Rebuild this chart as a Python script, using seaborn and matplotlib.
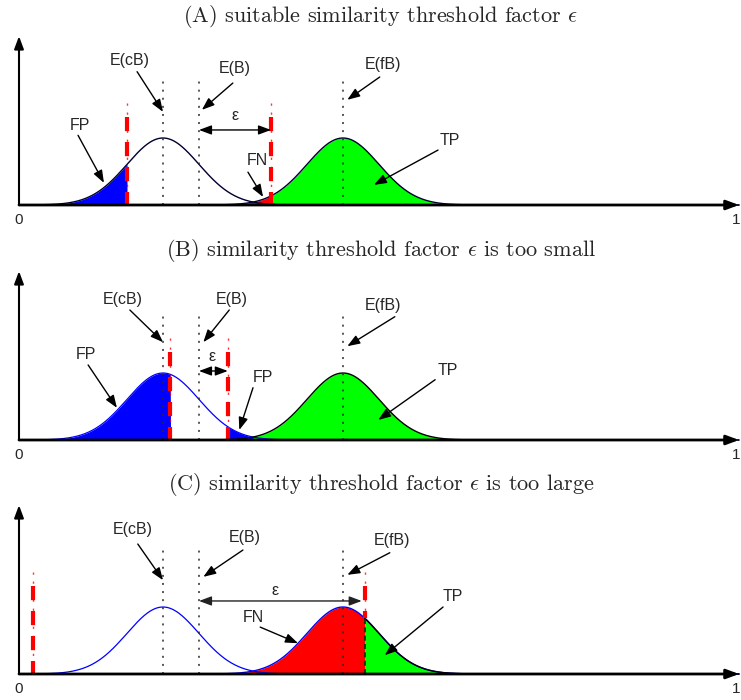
import numpy as np
import matplotlib
matplotlib.use("Agg")
import matplotlib.pyplot as plt
import seaborn as sns

sns.set_style("white")
plt.rcParams["mathtext.fontset"] = "cm"
plt.rcParams["font.family"] = ["Liberation Sans", "DejaVu Sans"]

# Expected values of the three similarity distributions and their common spread
mean_cB = 0.20
mean_B = 0.25
mean_fB = 0.45
sigma = 0.05

# Threshold factor used in each scenario
panel_tags = ["A", "B", "C"]
panel_titles = [
    r"(A) suitable similarity threshold factor $\epsilon$",
    r"(B) similarity threshold factor $\epsilon$ is too small",
    r"(C) similarity threshold factor $\epsilon$ is too large",
]
epsilons = [0.10, 0.04, 0.23]
tick_labels = ["0", "1"]

FIG_W, FIG_H = 741, 700
baselines_px = [205, 440, 674]
title_px = [17, 250, 485]
TITLE_X_PX = 381
X0_PX, UNIT_X = 19, 720      # pixel of x=0, pixels per x unit
UNIT_Y = 67                  # pixels per density unit (peak height)
ABOVE, BELOW = 180, 25

BLUE = "#0000ff"
GREEN = "#00ff00"
RED = "#ff0000"
NAVY = "#00002e"

x = np.linspace(0, 1, 2001)


def gauss(mu):
    return np.exp(-0.5 * ((x - mu) / sigma) ** 2)


def gauss_at(mu, v):
    return float(np.exp(-0.5 * ((v - mu) / sigma) ** 2))


cB = gauss(mean_cB)
fB = gauss(mean_fB)

fig = plt.figure(figsize=(FIG_W / 100, FIG_H / 100), dpi=100)


def make_axes(base):
    ax = fig.add_axes([0, 1 - (base + BELOW) / FIG_H, 1, (ABOVE + BELOW) / FIG_H])
    ax.set_xlim(-X0_PX / UNIT_X, (FIG_W - X0_PX) / UNIT_X)
    ax.set_ylim(-BELOW / UNIT_Y, ABOVE / UNIT_Y)
    ax.axis("off")
    return ax


def curve(ax, y, color, lw=1.0, mask=None, z=4):
    xs, ys = (x, y) if mask is None else (x[mask], y[mask])
    sns.lineplot(x=xs, y=ys, ax=ax, color=color, lw=lw, estimator=None,
                 sort=False, zorder=z)


def fill(ax, y, where, color, z=2):
    ax.fill_between(x, 0, y, where=where, color=color, lw=0, zorder=z,
                    interpolate=True)


def marker_line(ax, v):
    ax.plot([v, v], [0, 1.87], color="#2a2a2a", lw=1.1, dashes=(1.3, 4.0),
            zorder=6)


def threshold_line(ax, v, y0=0.0):
    ax.plot([v, v], [1.52, y0], color=RED, lw=1.0, alpha=0.8,
            dashes=(1.6, 4.9), zorder=7)
    ax.plot([v, v], [1.31, y0], color=RED, lw=3.0, dashes=(3.4, 2.6),
            zorder=7)


HEAD = "-|>,head_length=0.75,head_width=0.28"
HEAD2 = "<|-|>,head_length=0.75,head_width=0.28"


def axes_arrows(ax):
    ax.annotate("", xy=(1.0, 0), xytext=(0, 0),
                arrowprops=dict(arrowstyle=HEAD, color="black", lw=2.0,
                                shrinkA=0, shrinkB=0), zorder=8)
    ax.annotate("", xy=(0, 2.52), xytext=(0, 0),
                arrowprops=dict(arrowstyle=HEAD, color="black", lw=1.5,
                                shrinkA=0, shrinkB=0), zorder=8)
    ax.text(0, -0.22, tick_labels[0], ha="center", va="center", fontsize=11)
    ax.text(1.0 + 1.5 / UNIT_X, -0.22, tick_labels[1], ha="right",
            va="center", fontsize=11)


def label(ax, text, pos, tail, tip, color="black"):
    ax.text(pos[0], pos[1], text, ha="center", va="center", fontsize=11.5,
            zorder=9)
    ax.annotate("", xy=tip, xytext=tail,
                arrowprops=dict(arrowstyle=HEAD, color=color, lw=1.0,
                                shrinkA=0, shrinkB=0), zorder=9)


def eps_arrow(ax, x1, x2, y, text_pos, color="black"):
    ax.annotate("", xy=(x2, y), xytext=(x1, y),
                arrowprops=dict(arrowstyle=HEAD2, color=color, lw=1.0,
                                shrinkA=0, shrinkB=0), zorder=9)
    ax.text(text_pos[0], text_pos[1], "ε", ha="center", va="center",
            fontsize=11.5, zorder=9)


axes = [make_axes(b) for b in baselines_px]
for title, ty in zip(panel_titles, title_px):
    fig.text(TITLE_X_PX / FIG_W, 1 - ty / FIG_H, title, ha="center",
             va="center", fontsize=16, family="cmr10")

# (A) suitable threshold
ax = axes[0]
eps = epsilons[0]
lo, hi = mean_B - eps, mean_B + eps
fill(ax, cB, x <= lo, BLUE)
fill(ax, fB, (x <= hi) & (x >= mean_B), RED)
fill(ax, fB, x >= hi, GREEN)
curve(ax, cB, NAVY)
curve(ax, fB, NAVY)
for v in (mean_cB, mean_B, mean_fB):
    marker_line(ax, v)
threshold_line(ax, lo)
threshold_line(ax, hi)
axes_arrows(ax)
label(ax, "E(cB)", (0.154, 2.16), (0.164, 1.99), (0.200, 1.39))
label(ax, "E(B)", (0.300, 2.04), (0.297, 1.82), (0.254, 1.42))
label(ax, "E(fB)", (0.506, 2.10), (0.501, 1.91), (0.456, 1.57))
label(ax, "FP", (0.085, 1.18), (0.082, 1.04), (0.118, 0.33))
label(ax, "FN", (0.331, 0.66), (0.318, 0.49), (0.339, 0.12))
label(ax, "TP", (0.599, 0.97), (0.582, 0.82), (0.493, 0.30))
eps_arrow(ax, mean_B, hi, 1.12, (0.300, 1.33))

# (B) threshold too small
ax = axes[1]
eps = epsilons[1]
lo, hi = mean_B - eps, mean_B + eps
cross = 0.5 * (mean_cB + mean_fB)
fill(ax, fB, x >= hi, GREEN)
fill(ax, cB, x <= lo, BLUE)
fill(ax, cB, (x >= hi) & (x <= cross), BLUE, z=3)
curve(ax, cB, BLUE, lw=0.9)
curve(ax, fB, "black")
for v in (mean_cB, mean_B, mean_fB):
    marker_line(ax, v)
threshold_line(ax, lo)
threshold_line(ax, hi)
axes_arrows(ax)
label(ax, "E(cB)", (0.144, 2.09), (0.154, 1.94), (0.200, 1.46))
label(ax, "E(B)", (0.296, 2.09), (0.292, 1.94), (0.256, 1.46))
label(ax, "E(fB)", (0.506, 2.01), (0.522, 1.84), (0.456, 1.40))
label(ax, "FP", (0.093, 1.27), (0.096, 1.12), (0.136, 0.48))
label(ax, "FP", (0.339, 0.94), (0.325, 0.78), (0.306, 0.15))
label(ax, "TP", (0.596, 1.04), (0.578, 0.90), (0.499, 0.30))
eps_arrow(ax, mean_B, hi, 1.03, (0.268, 1.24))

# (C) threshold too large
ax = axes[2]
eps = epsilons[2]
lo, hi = mean_B - eps, mean_B + eps
fill(ax, fB, x <= hi, RED)
fill(ax, fB, x >= hi, GREEN)
curve(ax, cB, BLUE, lw=0.9)
curve(ax, fB, BLUE, lw=1.0)
curve(ax, fB, "black", lw=1.0, mask=x >= hi, z=5)
for v in (mean_cB, mean_B, mean_fB):
    marker_line(ax, v)
y_hi = gauss_at(mean_fB, hi)
ax.plot([hi, hi], [0, y_hi], color="#003300", lw=1.2, dashes=(3, 2), zorder=6)
threshold_line(ax, lo)
threshold_line(ax, hi, y0=y_hi)
axes_arrows(ax)
label(ax, "E(cB)", (0.158, 2.15), (0.165, 1.94), (0.200, 1.40))
label(ax, "E(B)", (0.314, 2.04), (0.311, 1.85), (0.256, 1.45))
label(ax, "E(fB)", (0.518, 1.99), (0.515, 1.81), (0.456, 1.48))
label(ax, "FN", (0.325, 0.84), (0.335, 0.70), (0.3875, 0.46))
label(ax, "TP", (0.603, 1.15), (0.589, 1.00), (0.508, 0.28))
eps_arrow(ax, mean_B, hi - 0.004, 1.09, (0.356, 1.25), color="#222222")

fig.savefig("out.png", dpi=100)
